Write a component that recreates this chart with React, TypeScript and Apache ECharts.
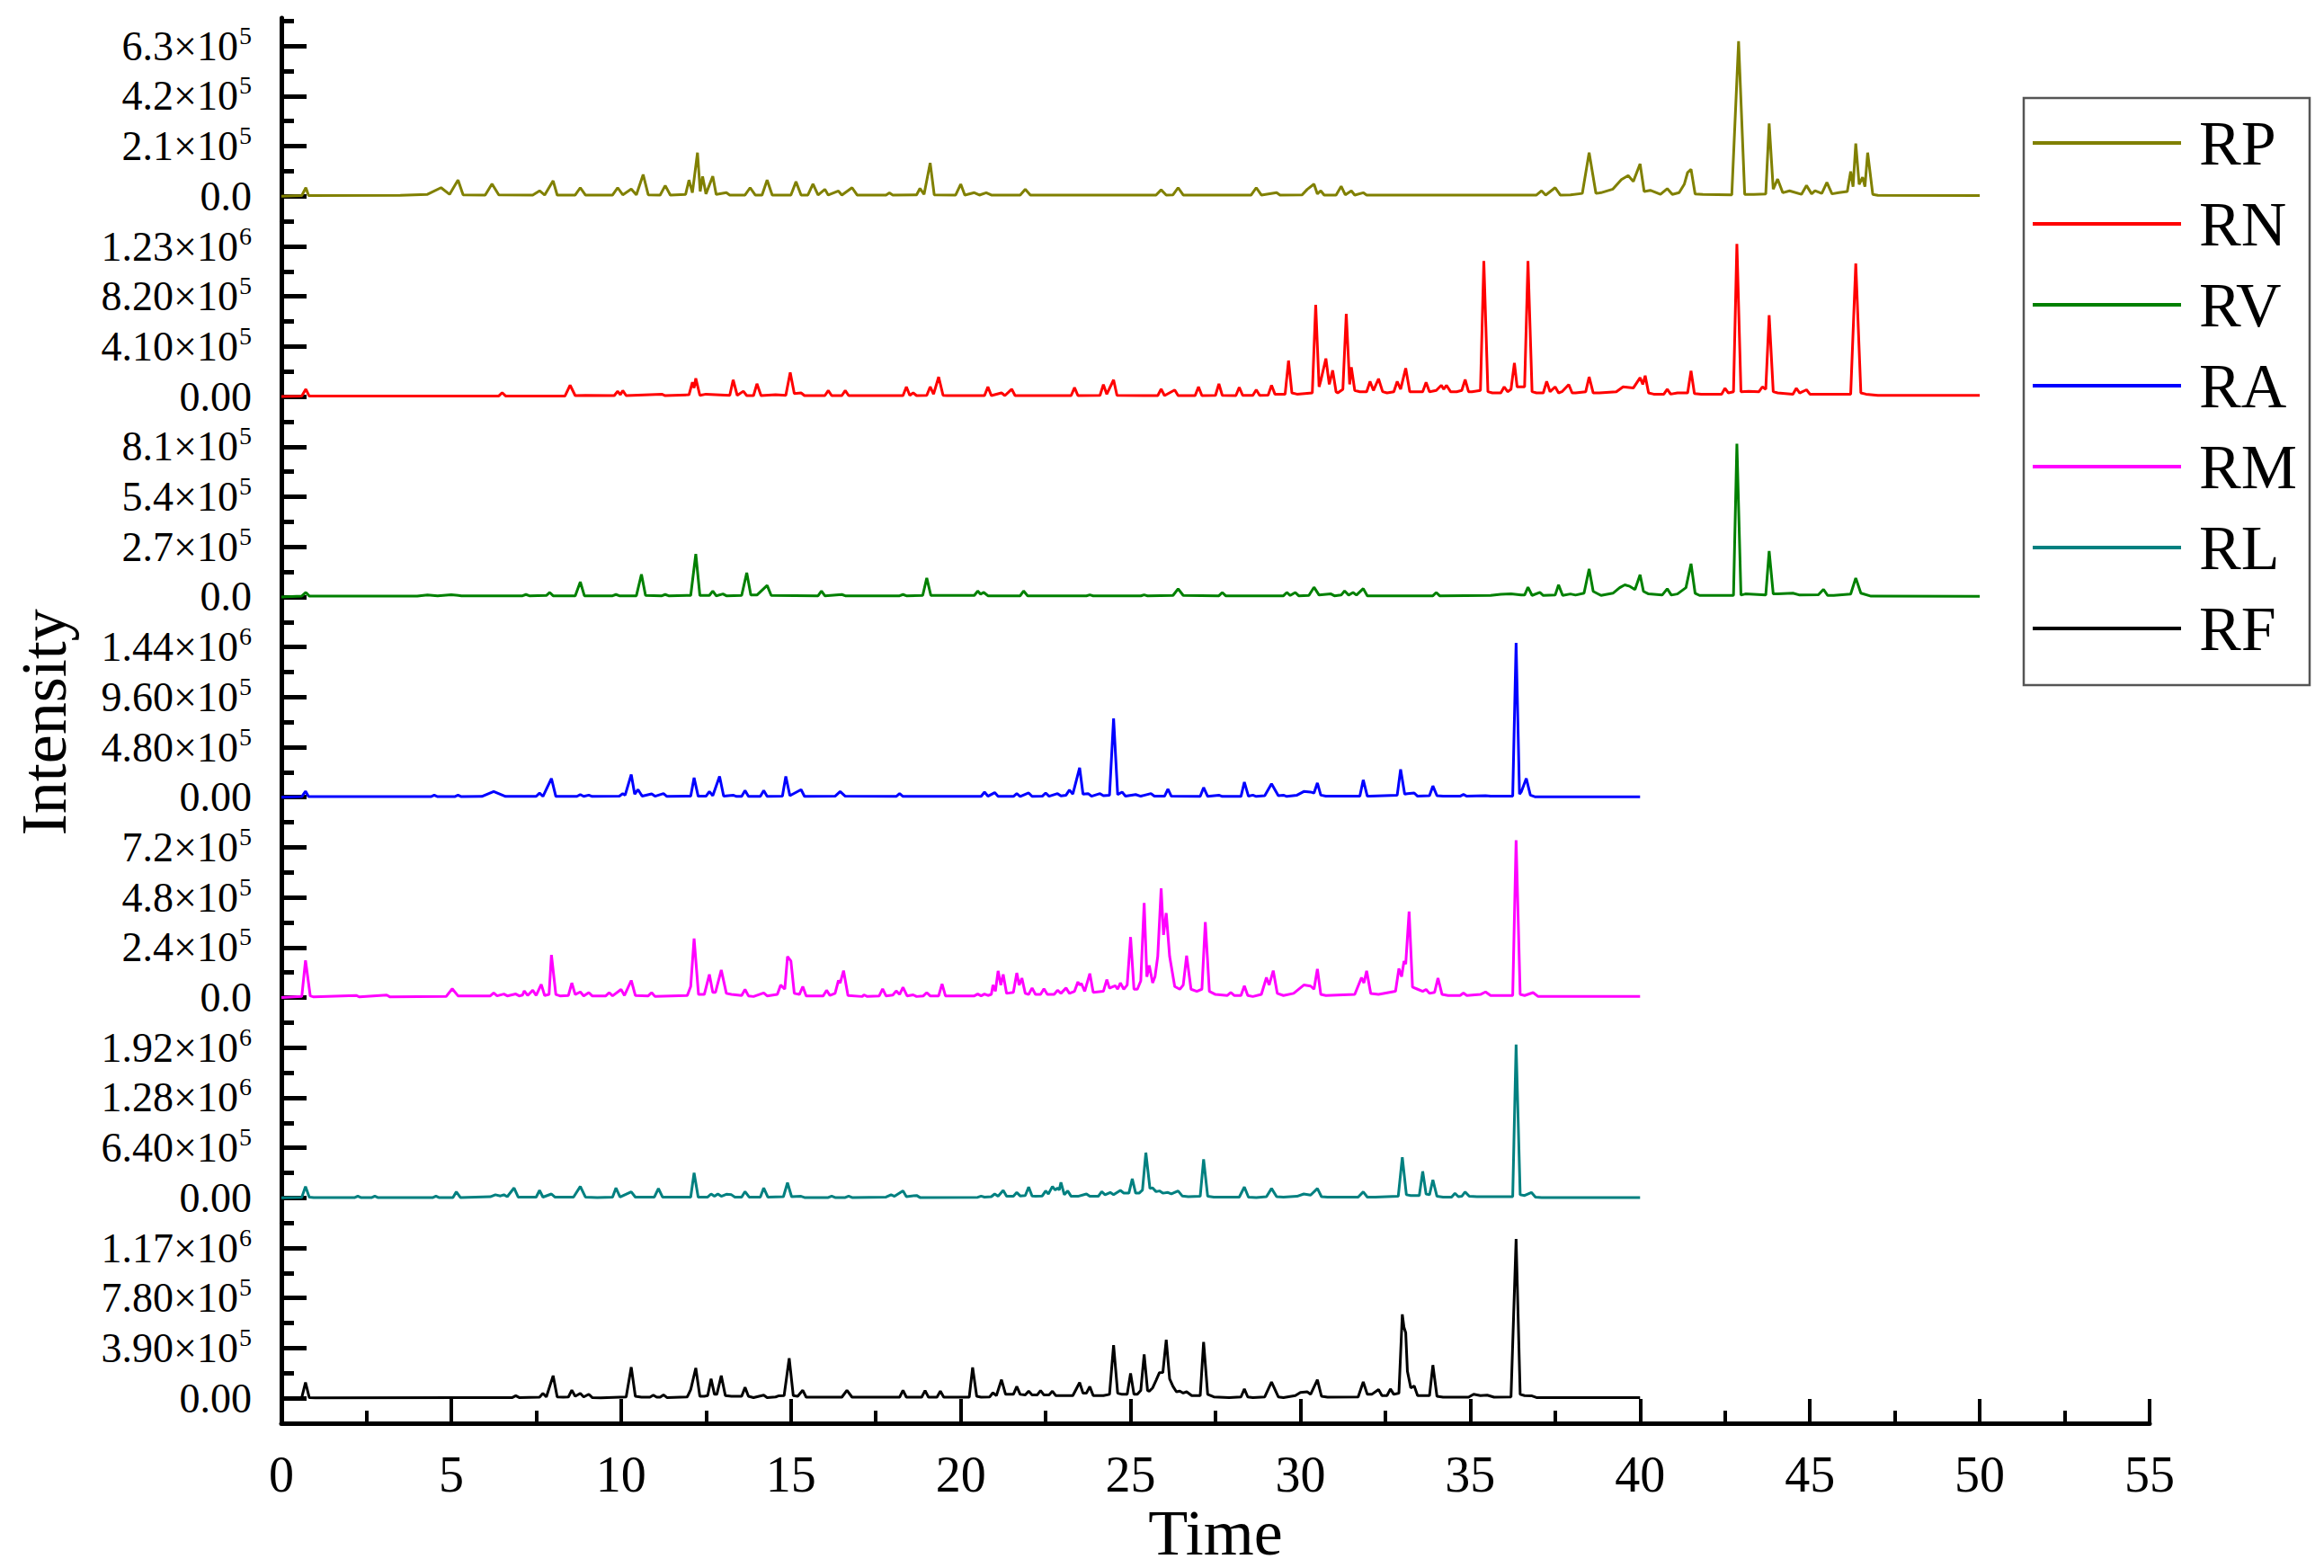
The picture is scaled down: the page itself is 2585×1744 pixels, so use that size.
import React, { useEffect, useRef } from "react";
import * as echarts from "echarts";

const FONT = "Liberation Serif, Times New Roman, serif";

const seriesNames = ["RP", "RN", "RV", "RA", "RM", "RL", "RF"];
const seriesColors = ["#808000", "#ff0000", "#008000", "#0000ff", "#ff00ff", "#008080", "#000000"];
const tickSteps = [2.1e5, 4.1e5, 2.7e5, 4.8e5, 2.4e5, 6.4e5, 3.9e5];
const tickLabels = [
  ["0.0", "2.1×10^5", "4.2×10^5", "6.3×10^5"],
  ["0.00", "4.10×10^5", "8.20×10^5", "1.23×10^6"],
  ["0.0", "2.7×10^5", "5.4×10^5", "8.1×10^5"],
  ["0.00", "4.80×10^5", "9.60×10^5", "1.44×10^6"],
  ["0.0", "2.4×10^5", "4.8×10^5", "7.2×10^5"],
  ["0.00", "6.40×10^5", "1.28×10^6", "1.92×10^6"],
  ["0.00", "3.90×10^5", "7.80×10^5", "1.17×10^6"],
];
const xTicks = [0, 5, 10, 15, 20, 25, 30, 35, 40, 45, 50, 55];

const rpData = [
  [0, 0], [0.6, 3000], [0.72, 36000], [0.8, 3000],
  [3.5, 4000], [4.3, 8000], [4.7, 36000], [4.95, 8000], [5.2, 68000], [5.35, 6000],
  [6.0, 5000], [6.2, 52000], [6.4, 6000],
  [7.4, 5000], [7.6, 23000], [7.75, 5000], [8.0, 65000], [8.12, 5000],
  [8.65, 5000], [8.8, 36000], [8.95, 5000],
  [9.75, 5000], [9.9, 36000], [10.05, 6000], [10.3, 30000], [10.45, 6000], [10.65, 91000], [10.8, 6000],
  [11.15, 5000], [11.3, 45000], [11.45, 5000],
  [11.9, 8000], [12.0, 68000], [12.1, 15000], [12.25, 183000], [12.33, 20000], [12.4, 83000], [12.5, 10000], [12.7, 84000], [12.8, 8000],
  [13.1, 15000], [13.2, 5000],
  [13.65, 5000], [13.8, 36000], [13.95, 5000],
  [14.15, 5000], [14.3, 68000], [14.45, 5000],
  [15.0, 5000], [15.15, 61000], [15.3, 5000], [15.5, 5000], [15.65, 52000], [15.8, 5000], [16.0, 29000], [16.1, 5000], [16.4, 22000], [16.5, 5000], [16.8, 36000], [16.95, 5000],
  [17.8, 5000], [17.9, 14000], [18.0, 5000],
  [18.7, 6000], [18.8, 33000], [18.92, 8000], [19.1, 140000], [19.22, 6000],
  [19.85, 5000], [20.0, 51000], [20.12, 5000], [20.4, 15000], [20.55, 5000], [20.75, 15000], [20.9, 5000],
  [21.75, 5000], [21.9, 29000], [22.05, 5000],
  [25.75, 5000], [25.9, 27000], [26.05, 5000], [26.25, 6000], [26.4, 36000], [26.55, 5000],
  [28.55, 5000], [28.7, 36000], [28.85, 5000], [29.3, 15000], [29.4, 5000],
  [30.05, 6000], [30.2, 29000], [30.4, 51000], [30.5, 10000], [30.6, 23000], [30.7, 5000],
  [31.05, 5000], [31.2, 42000], [31.32, 6000], [31.5, 23000], [31.6, 5000], [31.85, 15000], [31.95, 5000],
  [36.95, 5000], [37.1, 23000], [37.22, 5000], [37.5, 36000], [37.65, 5000], [37.95, 6000],
  [38.3, 12000], [38.5, 183000], [38.7, 12000], [38.85, 15000],
  [39.2, 30000], [39.45, 70000], [39.65, 87000], [39.8, 62000], [40.0, 136000], [40.12, 20000], [40.3, 25000],
  [40.6, 8000], [40.8, 32000], [40.95, 8000], [41.15, 15000],
  [41.3, 50000], [41.4, 100000], [41.5, 113000], [41.62, 10000], [41.85, 8000],
  [42.7, 6000], [42.9, 650000], [43.08, 8000], [43.35, 8000],
  [43.7, 10000], [43.8, 305000], [43.92, 30000], [44.05, 72000], [44.2, 15000], [44.4, 23000],
  [44.75, 8000], [44.9, 45000], [45.05, 10000], [45.15, 23000],
  [45.35, 12000], [45.5, 58000], [45.65, 10000], [45.85, 15000],
  [46.1, 20000], [46.2, 104000], [46.27, 40000], [46.35, 221000], [46.45, 50000], [46.55, 80000], [46.62, 40000], [46.7, 183000], [46.85, 8000], [47.0, 4000],
  [50, 3000],
];

const rnData = [
  [0, 0], [0.6, 4000], [0.72, 61000], [0.82, 4000],
  [4.5, 4000], [6.4, 5000], [6.5, 32000], [6.6, 5000],
  [8.35, 5000], [8.5, 93000], [8.65, 8000], [8.95, 10000],
  [9.8, 8000], [9.9, 44000], [9.98, 15000], [10.05, 49000], [10.15, 8000],
  [11.2, 20000], [11.3, 8000],
  [12.0, 15000], [12.1, 117000], [12.15, 70000], [12.2, 149000], [12.32, 10000], [12.5, 20000],
  [13.2, 10000], [13.3, 137000], [13.42, 10000], [13.6, 44000], [13.7, 8000],
  [13.9, 8000], [14.0, 105000], [14.12, 8000], [14.55, 15000],
  [14.85, 10000], [14.98, 198000], [15.1, 25000], [15.3, 30000], [15.4, 8000],
  [16.0, 8000], [16.1, 49000], [16.2, 8000], [16.5, 8000], [16.6, 49000], [16.7, 8000],
  [18.3, 8000], [18.4, 80000], [18.5, 10000], [18.6, 30000], [18.7, 8000],
  [19.0, 10000], [19.1, 80000], [19.2, 20000], [19.35, 161000], [19.48, 10000], [19.6, 8000],
  [20.7, 8000], [20.8, 80000], [20.9, 8000], [21.2, 30000], [21.3, 8000], [21.5, 61000], [21.6, 8000],
  [23.25, 8000], [23.35, 73000], [23.45, 8000],
  [24.1, 10000], [24.2, 98000], [24.3, 20000], [24.5, 137000], [24.6, 10000],
  [25.8, 8000], [25.9, 61000], [26.0, 8000], [26.3, 54000], [26.4, 8000],
  [26.9, 8000], [27.0, 80000], [27.1, 8000],
  [27.5, 10000], [27.6, 105000], [27.7, 10000],
  [28.1, 8000], [28.2, 76000], [28.3, 10000],
  [28.6, 10000], [28.7, 56000], [28.8, 10000],
  [29.05, 12000], [29.15, 93000], [29.25, 20000],
  [29.55, 20000], [29.65, 295000], [29.75, 30000], [29.9, 20000],
  [30.35, 30000], [30.45, 752000], [30.55, 80000], [30.6, 130000], [30.75, 312000], [30.85, 100000], [30.95, 215000], [31.05, 40000], [31.1, 30000],
  [31.25, 60000], [31.35, 678000], [31.45, 100000], [31.5, 240000], [31.6, 50000], [31.75, 40000],
  [31.95, 40000], [32.05, 124000], [32.15, 50000], [32.3, 146000], [32.42, 40000], [32.55, 30000],
  [32.75, 40000], [32.85, 124000], [32.95, 60000], [33.1, 232000], [33.22, 40000], [33.4, 40000],
  [33.6, 40000], [33.7, 117000], [33.8, 40000], [34.0, 50000], [34.15, 93000], [34.22, 60000], [34.3, 93000], [34.42, 40000], [34.6, 40000],
  [34.75, 50000], [34.85, 139000], [34.95, 40000], [35.05, 40000],
  [35.3, 50000], [35.4, 1110000], [35.52, 40000], [35.65, 30000],
  [35.9, 30000], [36.0, 80000], [36.1, 40000], [36.2, 60000], [36.3, 276000], [36.38, 80000], [36.45, 80000],
  [36.6, 80000], [36.7, 1110000], [36.82, 40000], [36.95, 30000],
  [37.15, 30000], [37.25, 124000], [37.35, 40000], [37.5, 80000], [37.6, 30000], [37.7, 40000], [37.9, 98000], [38.0, 30000], [38.1, 30000],
  [38.4, 40000], [38.5, 161000], [38.62, 30000], [38.8, 30000],
  [39.3, 40000], [39.5, 80000], [39.8, 70000], [40.0, 154000], [40.08, 100000], [40.15, 171000], [40.25, 30000], [40.4, 20000],
  [40.7, 20000], [40.8, 61000], [40.9, 20000], [41.1, 30000],
  [41.4, 30000], [41.5, 210000], [41.6, 25000], [41.8, 20000],
  [42.4, 20000], [42.5, 68000], [42.6, 30000], [42.75, 40000], [42.85, 1250000], [42.97, 40000], [43.2, 44000],
  [43.5, 40000], [43.6, 80000], [43.7, 60000], [43.8, 666000], [43.92, 40000], [44.05, 30000],
  [44.5, 20000], [44.6, 68000], [44.7, 30000], [44.9, 56000], [45.0, 20000], [45.15, 20000],
  [46.2, 20000], [46.35, 1090000], [46.5, 30000], [46.65, 20000], [47, 10000], [50, 10000],
];

const rvData = [
  [0, 0], [0.6, 5000], [0.72, 24000], [0.82, 5000],
  [4.0, 5000], [4.3, 11000], [4.6, 6000], [5.0, 12000], [5.3, 6000],
  [7.1, 6000], [7.2, 13000], [7.3, 6000], [7.8, 8000], [7.9, 24000], [8.0, 6000],
  [8.65, 6000], [8.8, 81000], [8.92, 6000],
  [9.75, 6000], [9.85, 13000], [9.95, 6000],
  [10.45, 6000], [10.6, 122000], [10.72, 8000],
  [11.2, 6000], [11.3, 13000], [11.4, 6000],
  [12.05, 8000], [12.2, 231000], [12.32, 8000],
  [12.6, 8000], [12.7, 32000], [12.8, 6000], [13.0, 16000], [13.1, 6000],
  [13.55, 8000], [13.7, 130000], [13.82, 10000], [14.0, 10000], [14.3, 62000], [14.42, 8000],
  [15.8, 6000], [15.9, 32000], [16.0, 6000], [16.5, 13000], [16.6, 6000],
  [18.2, 6000], [18.3, 13000], [18.4, 6000],
  [18.88, 8000], [19.0, 102000], [19.12, 8000],
  [20.4, 8000], [20.5, 32000], [20.58, 15000], [20.68, 24000], [20.8, 6000],
  [21.75, 6000], [21.85, 32000], [21.97, 6000],
  [23.7, 6000], [23.8, 11000], [23.9, 6000],
  [25.3, 6000], [25.4, 11000], [25.5, 6000],
  [26.25, 8000], [26.4, 44000], [26.55, 8000],
  [27.6, 6000], [27.7, 24000], [27.8, 6000],
  [29.5, 6000], [29.6, 24000], [29.7, 8000], [29.85, 24000], [29.95, 6000],
  [30.25, 8000], [30.4, 52000], [30.55, 10000], [30.9, 16000], [31.0, 6000],
  [31.2, 10000], [31.3, 32000], [31.42, 10000], [31.55, 24000], [31.65, 10000], [31.85, 45000], [31.97, 6000],
  [33.9, 6000], [34.0, 24000], [34.1, 6000],
  [35.6, 8000], [35.9, 14000], [36.2, 16000], [36.5, 10000],
  [36.6, 10000], [36.7, 52000], [36.82, 8000], [37.05, 24000], [37.15, 8000],
  [37.5, 10000], [37.6, 65000], [37.72, 8000], [37.95, 16000], [38.1, 10000],
  [38.35, 20000], [38.5, 151000], [38.62, 30000], [38.85, 8000],
  [39.2, 20000], [39.4, 50000], [39.55, 65000], [39.7, 57000], [39.85, 40000], [40.0, 119000], [40.1, 30000], [40.25, 16000],
  [40.65, 10000], [40.8, 44000], [40.92, 10000], [41.1, 16000],
  [41.35, 50000], [41.5, 179000], [41.62, 20000], [41.75, 8000],
  [42.75, 8000], [42.85, 826000], [42.97, 10000], [43.1, 16000],
  [43.7, 10000], [43.8, 247000], [43.92, 16000], [44.05, 16000], [44.5, 20000], [44.7, 10000],
  [45.25, 12000], [45.4, 41000], [45.52, 8000], [45.7, 8000],
  [46.2, 15000], [46.35, 102000], [46.5, 20000], [46.8, 4000], [50, 3000],
];

const raData = [
  [0, 0], [0.6, 6000], [0.71, 58000], [0.8, 6000],
  [4.4, 6000], [4.5, 20000], [4.6, 6000], [5.1, 6000], [5.2, 20000], [5.3, 6000],
  [5.9, 8000], [6.25, 55000], [6.6, 8000],
  [7.5, 8000], [7.6, 40000], [7.7, 8000], [7.95, 180000], [8.08, 8000],
  [8.7, 8000], [8.8, 26000], [8.9, 8000], [9.05, 20000], [9.15, 8000],
  [9.95, 10000], [10.05, 35000], [10.12, 20000], [10.3, 218000], [10.4, 30000], [10.5, 73000], [10.62, 10000],
  [10.9, 32000], [11.0, 10000], [11.25, 35000], [11.35, 8000],
  [12.05, 10000], [12.15, 186000], [12.27, 10000],
  [12.5, 10000], [12.6, 55000], [12.7, 15000], [12.9, 200000], [13.02, 10000], [13.3, 20000], [13.4, 8000],
  [13.55, 8000], [13.65, 64000], [13.75, 8000],
  [14.1, 8000], [14.2, 64000], [14.3, 8000],
  [14.75, 10000], [14.85, 200000], [14.97, 15000], [15.3, 73000], [15.4, 8000],
  [16.3, 10000], [16.45, 55000], [16.6, 10000],
  [18.1, 8000], [18.2, 35000], [18.3, 8000],
  [20.6, 8000], [20.7, 49000], [20.8, 10000], [21.0, 44000], [21.1, 8000],
  [21.55, 8000], [21.65, 35000], [21.75, 8000], [22.0, 41000], [22.1, 8000],
  [22.4, 10000], [22.5, 41000], [22.6, 10000], [22.85, 35000], [22.95, 12000],
  [23.1, 20000], [23.2, 70000], [23.3, 30000], [23.5, 282000], [23.6, 30000], [23.75, 35000], [23.85, 10000],
  [24.1, 35000], [24.2, 15000], [24.38, 20000], [24.5, 756000], [24.62, 25000], [24.75, 50000], [24.85, 10000],
  [25.15, 26000], [25.3, 10000], [25.6, 35000], [25.7, 10000],
  [26.0, 10000], [26.1, 79000], [26.2, 10000],
  [27.05, 8000], [27.15, 93000], [27.27, 8000], [27.6, 20000], [27.7, 8000],
  [28.25, 8000], [28.35, 145000], [28.47, 10000], [28.6, 20000], [28.7, 8000],
  [28.95, 15000], [29.15, 128000], [29.35, 15000], [29.5, 20000], [29.6, 8000],
  [29.9, 20000], [30.1, 55000], [30.3, 50000], [30.4, 40000], [30.5, 137000], [30.6, 20000], [30.75, 10000],
  [31.75, 10000], [31.85, 166000], [31.97, 10000],
  [32.85, 20000], [32.95, 268000], [33.07, 30000], [33.15, 35000], [33.35, 41000], [33.45, 10000],
  [33.8, 15000], [33.9, 108000], [34.02, 15000], [34.2, 10000],
  [34.7, 10000], [34.8, 26000], [34.9, 10000], [35.45, 15000], [35.6, 10000],
  [36.25, 10000], [36.35, 1480000], [36.45, 30000], [36.5, 50000], [36.65, 180000], [36.77, 20000], [36.9, 5000], [40, 5000],
];

const rmData = [
  [0, 0], [0.6, 5000], [0.71, 178000], [0.85, 8000], [0.95, 3000],
  [2.2, 10000], [2.3, 3000], [3.1, 12000], [3.2, 3000],
  [4.85, 5000], [5.03, 42000], [5.2, 8000],
  [6.15, 8000], [6.25, 22000], [6.35, 8000], [6.55, 17000], [6.65, 8000], [6.9, 17000], [7.0, 8000],
  [7.1, 12000], [7.15, 32000], [7.25, 10000], [7.4, 35000], [7.5, 10000], [7.65, 63000], [7.75, 10000],
  [7.88, 15000], [7.95, 204000], [8.08, 15000], [8.2, 8000],
  [8.45, 10000], [8.55, 70000], [8.65, 15000], [8.8, 27000], [8.9, 8000], [9.05, 24000], [9.15, 8000],
  [9.55, 8000], [9.65, 24000], [9.75, 8000], [10.0, 39000], [10.1, 10000], [10.3, 82000], [10.42, 10000],
  [10.8, 8000], [10.9, 24000], [11.0, 5000],
  [11.95, 10000], [12.05, 53000], [12.15, 283000], [12.28, 15000], [12.45, 15000], [12.6, 111000], [12.7, 25000], [12.78, 25000], [12.95, 132000], [13.1, 20000], [13.25, 15000],
  [13.55, 10000], [13.65, 39000], [13.75, 8000], [13.9, 5000], [14.2, 22000], [14.3, 8000],
  [14.6, 15000], [14.7, 60000], [14.82, 40000], [14.9, 197000], [15.0, 175000], [15.1, 20000],
  [15.25, 15000], [15.35, 53000], [15.45, 8000],
  [15.95, 8000], [16.05, 35000], [16.15, 10000], [16.3, 20000], [16.4, 82000], [16.45, 70000], [16.55, 129000], [16.68, 10000],
  [17.1, 5000], [17.15, 13000], [17.25, 5000],
  [17.6, 8000], [17.7, 42000], [17.8, 8000], [18.0, 12000], [18.1, 32000], [18.2, 15000], [18.3, 49000], [18.42, 8000],
  [18.6, 13000], [18.7, 5000], [18.9, 8000], [19.0, 24000], [19.1, 8000],
  [19.35, 8000], [19.45, 65000], [19.55, 8000],
  [20.4, 8000], [20.5, 17000], [20.6, 8000], [20.7, 17000], [20.8, 10000],
  [20.9, 15000], [20.95, 60000], [21.02, 30000], [21.1, 128000], [21.18, 60000], [21.25, 111000], [21.35, 20000],
  [21.55, 25000], [21.65, 118000], [21.72, 60000], [21.8, 93000], [21.9, 20000],
  [22.0, 15000], [22.1, 46000], [22.2, 15000], [22.35, 15000], [22.45, 42000], [22.55, 15000],
  [22.75, 15000], [22.85, 35000], [22.95, 20000], [23.1, 46000], [23.2, 20000],
  [23.35, 30000], [23.45, 75000], [23.5, 60000], [23.55, 68000], [23.65, 30000], [23.8, 115000], [23.9, 25000],
  [24.2, 30000], [24.3, 86000], [24.38, 45000], [24.45, 50000], [24.55, 57000], [24.62, 40000], [24.7, 70000], [24.8, 40000],
  [24.9, 60000], [25.0, 290000], [25.1, 40000], [25.2, 40000],
  [25.3, 80000], [25.4, 453000], [25.48, 100000], [25.55, 154000], [25.65, 70000], [25.72, 100000], [25.8, 197000],
  [25.9, 523000], [25.97, 300000], [26.05, 405000], [26.15, 197000], [26.3, 53000], [26.45, 40000],
  [26.55, 60000], [26.65, 201000], [26.78, 40000], [26.95, 30000],
  [27.1, 40000], [27.2, 362000], [27.32, 30000], [27.5, 15000],
  [27.85, 10000], [27.95, 24000], [28.05, 10000], [28.25, 10000], [28.35, 56000], [28.45, 10000], [28.6, 5000],
  [28.85, 15000], [29.0, 96000], [29.08, 60000], [29.2, 129000], [29.32, 20000], [29.5, 10000],
  [29.8, 20000], [30.1, 60000], [30.3, 55000], [30.4, 40000], [30.5, 137000], [30.6, 15000], [30.75, 10000],
  [31.6, 15000], [31.8, 96000], [31.87, 70000], [31.95, 128000], [32.07, 20000], [32.3, 15000],
  [32.8, 30000], [32.9, 139000], [32.98, 100000], [33.05, 175000], [33.1, 160000], [33.2, 412000], [33.3, 50000], [33.45, 40000],
  [33.6, 30000], [33.7, 39000], [33.8, 20000], [33.95, 25000], [34.05, 93000], [34.17, 15000], [34.35, 10000],
  [34.7, 10000], [34.8, 22000], [34.9, 10000], [35.3, 15000], [35.45, 27000], [35.6, 10000],
  [36.25, 10000], [36.35, 754000], [36.47, 15000], [36.6, 10000], [36.85, 24000], [37.0, 5000], [40, 5000],
];

const rlData = [
  [0, 0], [0.6, 8000], [0.71, 146000], [0.82, 10000], [0.95, 3000],
  [2.15, 3000], [2.25, 23000], [2.35, 3000], [2.65, 3000], [2.75, 23000], [2.85, 3000],
  [4.45, 3000], [4.55, 23000], [4.65, 3000], [5.05, 5000], [5.15, 77000], [5.27, 5000],
  [6.15, 15000], [6.3, 40000], [6.45, 25000], [6.55, 40000], [6.65, 15000], [6.85, 127000], [6.97, 10000],
  [7.5, 10000], [7.6, 96000], [7.7, 10000], [7.95, 50000], [8.05, 10000],
  [8.6, 10000], [8.8, 146000], [8.95, 10000], [9.3, 5000],
  [9.75, 10000], [9.85, 127000], [9.97, 10000], [10.3, 77000], [10.42, 10000],
  [10.98, 10000], [11.1, 120000], [11.22, 10000],
  [12.05, 10000], [12.15, 320000], [12.27, 10000],
  [12.55, 10000], [12.65, 50000], [12.75, 20000], [12.85, 50000], [12.95, 20000], [13.1, 46000], [13.25, 40000], [13.35, 10000],
  [13.55, 10000], [13.65, 81000], [13.77, 10000],
  [14.1, 10000], [14.2, 127000], [14.32, 10000],
  [14.78, 15000], [14.9, 193000], [15.02, 15000], [15.3, 20000], [15.4, 5000],
  [16.1, 5000], [16.2, 23000], [16.3, 5000], [16.6, 5000], [16.7, 23000], [16.8, 5000],
  [17.8, 10000], [17.95, 40000], [18.05, 20000], [18.3, 89000], [18.4, 15000], [18.7, 31000], [18.8, 5000],
  [20.5, 8000], [20.6, 23000], [20.7, 10000], [20.9, 15000], [21.0, 50000], [21.1, 20000], [21.25, 96000], [21.35, 20000],
  [21.55, 20000], [21.65, 69000], [21.75, 25000], [21.9, 30000], [22.0, 139000], [22.1, 25000], [22.2, 20000],
  [22.4, 25000], [22.5, 89000], [22.58, 50000], [22.7, 146000], [22.78, 100000], [22.85, 127000], [22.9, 100000], [22.95, 197000], [23.05, 40000], [23.15, 89000], [23.25, 20000],
  [23.45, 20000], [23.7, 50000], [23.8, 20000], [24.05, 20000], [24.15, 81000], [24.25, 40000], [24.4, 69000], [24.5, 40000], [24.7, 96000], [24.8, 62000],
  [24.95, 60000], [25.05, 243000], [25.15, 60000], [25.25, 60000],
  [25.35, 100000], [25.45, 578000], [25.57, 120000], [25.65, 127000], [25.75, 80000], [25.85, 89000], [25.95, 60000], [26.1, 69000], [26.2, 50000], [26.4, 89000], [26.52, 25000], [26.7, 15000],
  [27.05, 20000], [27.15, 493000], [27.27, 20000], [27.45, 10000],
  [27.9, 10000], [28.2, 10000], [28.35, 139000], [28.47, 10000], [28.7, 5000],
  [29.0, 15000], [29.15, 120000], [29.3, 15000], [29.5, 10000],
  [29.9, 20000], [30.1, 50000], [30.3, 35000], [30.5, 120000], [30.62, 15000], [30.8, 10000],
  [31.7, 10000], [31.85, 77000], [31.97, 10000], [32.2, 10000],
  [32.88, 20000], [33.0, 520000], [33.12, 40000], [33.25, 30000],
  [33.5, 30000], [33.6, 339000], [33.7, 50000], [33.8, 40000], [33.9, 231000], [34.02, 20000], [34.2, 10000],
  [34.45, 10000], [34.55, 58000], [34.65, 15000], [34.75, 20000], [34.85, 77000], [34.97, 20000], [35.2, 15000],
  [36.25, 15000], [36.35, 1960000], [36.47, 40000], [36.6, 30000], [36.8, 69000], [36.92, 10000], [37.1, 5000], [40, 5000],
];

const rfData = [
  [0, 0], [0.6, 5000], [0.71, 122000], [0.82, 5000], [1.0, 2000],
  [6.8, 5000], [6.9, 19000], [7.0, 5000],
  [7.6, 8000], [7.7, 38000], [7.8, 10000], [8.0, 175000], [8.12, 10000], [8.3, 8000],
  [8.45, 10000], [8.55, 62000], [8.65, 15000], [8.8, 38000], [8.9, 10000], [9.05, 31000], [9.15, 5000], [9.4, 3000],
  [10.15, 10000], [10.3, 242000], [10.42, 15000], [10.6, 8000],
  [10.85, 8000], [10.95, 24000], [11.05, 8000], [11.15, 8000], [11.25, 26000], [11.35, 5000],
  [11.95, 10000], [12.05, 67000], [12.2, 235000], [12.32, 15000], [12.45, 15000],
  [12.55, 20000], [12.65, 151000], [12.75, 30000], [12.82, 30000], [12.95, 175000], [13.07, 20000], [13.25, 15000],
  [13.55, 15000], [13.65, 84000], [13.75, 15000], [13.9, 5000], [14.2, 24000], [14.3, 5000],
  [14.55, 10000], [14.65, 19000], [14.8, 20000], [14.95, 311000], [15.07, 20000], [15.2, 15000], [15.35, 62000], [15.45, 8000],
  [16.5, 8000], [16.65, 62000], [16.8, 8000],
  [18.2, 8000], [18.3, 62000], [18.4, 8000], [18.85, 8000], [18.95, 60000], [19.05, 8000], [19.3, 8000], [19.4, 55000], [19.5, 8000],
  [20.25, 8000], [20.35, 239000], [20.47, 15000], [20.6, 8000],
  [20.85, 10000], [20.95, 43000], [21.05, 20000], [21.2, 144000], [21.32, 30000],
  [21.55, 30000], [21.65, 91000], [21.75, 30000], [21.9, 25000], [22.0, 55000], [22.1, 25000],
  [22.25, 25000], [22.35, 60000], [22.45, 25000], [22.6, 25000], [22.7, 55000], [22.8, 20000],
  [23.1, 20000], [23.3, 20000], [23.5, 122000], [23.6, 40000], [23.7, 40000], [23.8, 91000], [23.9, 20000],
  [24.2, 20000], [24.38, 30000], [24.5, 414000], [24.62, 40000], [24.75, 30000],
  [24.9, 30000], [25.0, 194000], [25.1, 30000], [25.2, 30000],
  [25.3, 60000], [25.4, 342000], [25.5, 60000], [25.55, 55000], [25.65, 80000], [25.75, 139000], [25.85, 199000], [25.95, 200000], [26.05, 455000], [26.15, 150000], [26.25, 91000],
  [26.35, 50000], [26.45, 55000], [26.55, 40000], [26.65, 50000], [26.8, 20000],
  [27.05, 20000], [27.15, 438000], [27.27, 30000], [27.45, 10000],
  [27.9, 5000], [28.25, 10000], [28.35, 72000], [28.45, 10000], [28.6, 5000],
  [28.95, 10000], [29.15, 127000], [29.35, 10000], [29.5, 5000],
  [29.85, 20000], [30.0, 45000], [30.2, 50000], [30.3, 30000], [30.5, 144000], [30.62, 15000], [30.8, 8000],
  [31.7, 10000], [31.85, 127000], [31.97, 30000], [32.1, 30000], [32.3, 67000], [32.4, 20000], [32.55, 20000], [32.65, 72000], [32.75, 30000],
  [32.9, 40000], [33.0, 653000], [33.05, 550000], [33.1, 510000], [33.15, 210000], [33.25, 80000], [33.35, 96000], [33.45, 20000],
  [33.8, 20000], [33.9, 258000], [34.02, 15000], [34.2, 8000],
  [34.95, 8000], [35.1, 31000], [35.3, 20000], [35.5, 24000], [35.7, 8000],
  [36.2, 10000], [36.35, 1240000], [36.47, 30000], [36.6, 20000], [36.8, 19000], [36.95, 5000], [40, 5000],
];

const allData = [rpData, rnData, rvData, raData, rmData, rlData, rfData];

function makeLabel(text: string) {
  const parts = text.split("^");
  if (parts.length === 2) return `{b|${parts[0]}}{s|${parts[1]}}`;
  return `{b|${text}}`;
}

export default function App() {
  const ref = useRef<HTMLDivElement>(null);
  useEffect(() => {
    if (!ref.current) return;
    const chart = echarts.init(ref.current, undefined, { renderer: "svg" });

    const AX_BOTTOM = 1583;
    const AX_TOP = 20;
    const SLOT = (AX_BOTTOM - AX_TOP) / 28.06;
    const PANEL = SLOT * 4;
    const LEFT = 313;
    const RIGHT = 194;

    const grids: any[] = [];
    const xAxes: any[] = [];
    const yAxes: any[] = [];
    const series: any[] = [];

    seriesNames.forEach((name, k) => {
      const step = tickSteps[k];
      const top = k === 0 ? AX_TOP : AX_BOTTOM - (7 - k) * PANEL;
      const height = k === 0 ? AX_BOTTOM - 6 * PANEL - AX_TOP : PANEL;
      const maxV = -0.5 * step + (height / SLOT) * step;
      grids.push({ left: LEFT, right: RIGHT, top, height });
      const isBottom = k === 6;
      xAxes.push({
        gridIndex: k,
        type: "value",
        min: 0,
        max: 55,
        interval: 5,
        show: isBottom,
        name: isBottom ? "Time" : "",
        nameLocation: "middle",
        nameGap: 83,
        nameTextStyle: { fontSize: 72, lineHeight: 72, fontFamily: FONT, color: "#000" },
        axisLine: { show: true, onZero: false, lineStyle: { color: "#000", width: 5 } },
        axisTick: { show: true, inside: true, length: 27, lineStyle: { color: "#000", width: 4 } },
        minorTick: { show: true, splitNumber: 2, length: 14, lineStyle: { color: "#000", width: 4 } },
        splitLine: { show: false },
        axisLabel: {
          show: true,
          margin: 29,
          fontSize: 56,
          fontFamily: FONT,
          color: "#000",
          customValues: xTicks,
        },
      });
      const majors = [0, step, 2 * step, 3 * step];
      const minors = [0.5 * step, 1.5 * step, 2.5 * step, 3.5 * step];
      yAxes.push({
        gridIndex: k,
        type: "value",
        position: "left",
        min: -0.5 * step,
        max: maxV,
        name: k === 3 ? "Intensity" : "",
        nameLocation: "middle",
        nameGap: 228,
        nameRotate: 90,
        nameTextStyle: { fontSize: 72, fontFamily: FONT, color: "#000" },
        axisLine: { show: true, onZero: false, lineStyle: { color: "#000", width: 5 } },
        axisTick: { show: true, inside: true, length: 28, customValues: majors, lineStyle: { color: "#000", width: 5 } },
        splitLine: { show: false },
        axisLabel: {
          show: true,
          margin: 33,
          customValues: majors,
          formatter: (v: number) => makeLabel(tickLabels[k][Math.round(v / step)]),
          rich: {
            b: { fontSize: 46, fontFamily: FONT, color: "#000", lineHeight: 52 },
            s: { fontSize: 28, fontFamily: FONT, color: "#000", lineHeight: 30, verticalAlign: "top", padding: [0, 0, 0, 1] },
          },
        },
      });
      yAxes.push({
        gridIndex: k,
        type: "value",
        position: "left",
        min: -0.5 * step,
        max: maxV,
        axisLine: { show: false, onZero: false },
        axisTick: { show: true, inside: true, length: 14, customValues: minors, lineStyle: { color: "#000", width: 5 } },
        axisLabel: { show: false },
        splitLine: { show: false },
      });
      series.push({
        type: "line",
        name,
        xAxisIndex: k,
        yAxisIndex: 2 * k,
        data: allData[k],
        symbol: "none",
        showSymbol: false,
        lineStyle: { color: seriesColors[k], width: 3 },
        itemStyle: { color: seriesColors[k] },
      });
    });

    chart.setOption({
      animation: false,
      backgroundColor: "#ffffff",
      grid: grids,
      xAxis: xAxes,
      yAxis: yAxes,
      series,
      legend: {
        show: true,
        orient: "vertical",
        left: 2261,
        top: 124,
        padding: 0,
        icon: "rect",
        itemWidth: 165,
        itemHeight: 4,
        itemGap: 20,
        data: seriesNames,
        textStyle: { fontSize: 70, fontFamily: FONT, color: "#000", lineHeight: 70, padding: [0, 0, 0, 15] },
      },
      graphic: [
        {
          type: "rect",
          shape: { x: 2251, y: 109, width: 318, height: 653 },
          style: { fill: "none", stroke: "#555555", lineWidth: 2.5 },
          z: 0,
        },
      ],
    });
    return () => chart.dispose();
  }, []);
  return <div ref={ref} style={{ position: "absolute", left: 0, top: 0, width: 2585, height: 1744 }} />;
}
